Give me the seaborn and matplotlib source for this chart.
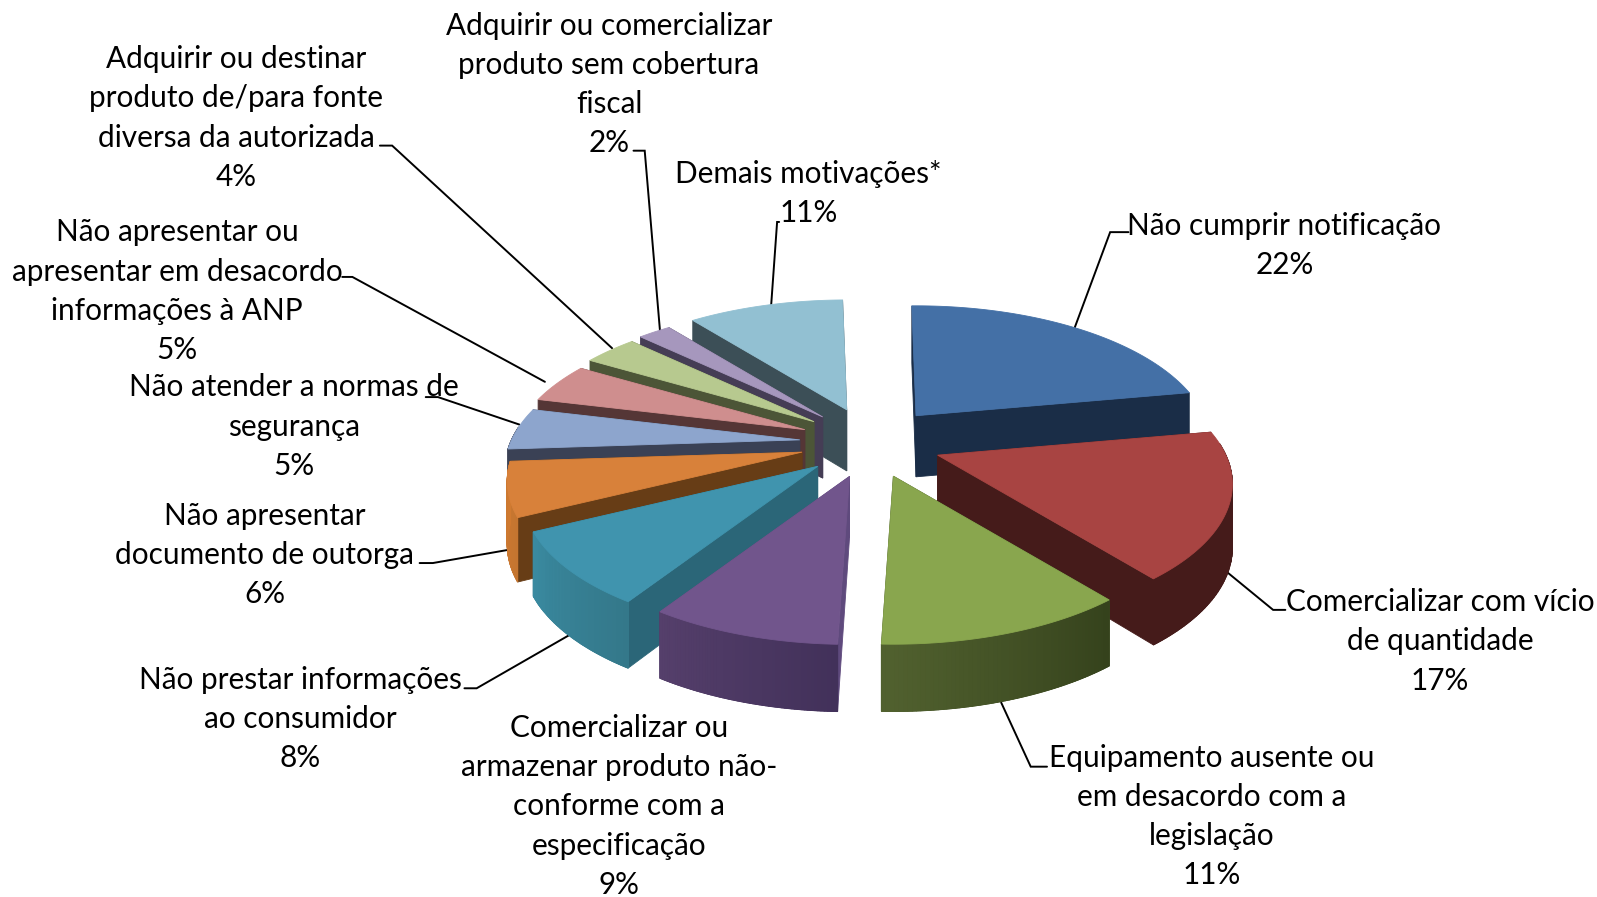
import matplotlib
matplotlib.use("Agg")
import matplotlib.pyplot as plt
import numpy as np
import seaborn as sns

labels = [
    "Não cumprir notificação\n22%",
    "Comercializar com vício\nde quantidade\n17%",
    "Equipamento ausente ou\nem desacordo com a\nlegislação\n11%",
    "Comercializar ou\narmazenar produto não-\nconforme com a\nespecificação\n9%",
    "Não prestar informações\nao consumidor\n8%",
    "Não apresentar\ndocumento de outorga\n6%",
    "Não atender a normas de\nsegurança\n5%",
    "Não apresentar ou\napresentar em desacordo\ninformações à ANP\n5%",
    "Adquirir ou destinar\nproduto de/para fonte\ndiversa da autorizada\n4%",
    "Adquirir ou comercializar\nproduto sem cobertura\nfiscal\n2%",
    "Demais motivações*\n11%",
]
values = [22.4, 17.1, 11.3, 8.6, 8.5, 6.3, 4.9, 4.7, 3.6, 2.2, 10.4]

top_colors = ["#4470a6", "#a84442", "#89a64e", "#71558c", "#4094ae", "#d8813a",
              "#8da5cd", "#cf8e8e", "#b7c98f", "#a697bd", "#92c0d2"]
face_colors = ["#1a2d47", "#451b1a", "#35421c", "#5f4a7d", "#2b6678", "#673d16",
               "#3a4155", "#553636", "#4c5537", "#453d55", "#3c4f57"]
rim_start = ["#1a2d47", "#451b1a", "#35421c", "#42315a", "#34788a", "#c47530",
             "#3a4155", "#553636", "#4c5537", "#453d55", "#3c4f57"]
rim_end = ["#1a2d47", "#451b1a", "#51612f", "#553f6b", "#3a8aa0", "#d07a30",
           "#3a4155", "#553636", "#4c5537", "#453d55", "#3c4f57"]

label_pos = [(1261, 241), (1414, 630), (1190, 802), (608, 792), (295, 706), (260, 545),
             (289, 419), (174, 286), (232, 116), (598, 83), (794, 190)]
leaders = [
    [(1108, 228), (1090, 228), (1054, 325)],
    [(1262, 599), (1250, 599), (1200, 558)],
    [(1028, 753), (1012, 753), (983, 690)],
    [(456, 676), (468, 676), (562, 622)],
    [(412, 553), (425, 553), (505, 539)],
    [(418, 390), (430, 390), (510, 417)],
    [(336, 272), (346, 272), (535, 375)],
    [(373, 143), (385, 143), (601, 342)],
    [(622, 148), (633, 148), (648, 325)],
    [(765, 218), (763, 218), (757, 302)],
]

# pie projection, in the same units as the 1568 wide view of the chart
cx, cy = 855, 435
ex, ey = 70, 34.5
rx, ry = 283, 130.5
persp = 0.209
start = -1.0


def rim_point(a):
    u, v = np.sin(a), -np.cos(a)
    s = 1 / (1 - persp * v)
    return rx * u * s, ry * v * s, 61 + 5 * v


sns.set_style("white")
plt.rcParams["font.family"] = ["Lato", "DejaVu Sans"]

fig = plt.figure(figsize=(15.97, 8.97), dpi=100)
ax = fig.add_axes([0, 0, 1, 1])
ax.set_xlim(0, 1568)
ax.set_ylim(881, 0)
ax.axis("off")

for pts in leaders:
    xs, ys = zip(*pts)
    ax.plot(xs, ys, color="black", lw=1.4, zorder=1, solid_joinstyle="miter")

edges = start + np.concatenate([[0], np.cumsum(values)]) / sum(values) * 360
mids = np.radians((edges[:-1] + edges[1:]) / 2)
order = np.argsort(-np.cos(mids))

z = 2
for i in order:
    ax0 = cx + ex * np.sin(mids[i])
    ay0 = cy - ey * np.cos(mids[i])
    angles = np.radians(np.linspace(edges[i], edges[i + 1], 60))
    rx_, ry_, d_ = rim_point(angles)
    px, py = ax0 + rx_, ay0 + ry_
    apex_d = 60

    # the two cut faces go first, a hidden one ends up under the rim and top
    for k in (0, -1):
        ax.fill([ax0, px[k], px[k], ax0],
                [ay0, py[k], py[k] + d_[k], ay0 + apex_d],
                color=face_colors[i], lw=0.6, zorder=z)
        z += 1

    # outer side, only the part facing the viewer
    front = np.where(-np.cos(angles) > -0.1)[0]
    if len(front) > 1:
        fx, fy, fd = px[front], py[front], d_[front]
        shades = sns.blend_palette([rim_start[i], rim_end[i]], len(front) - 1)
        ax.fill(np.r_[fx, fx[::-1]], np.r_[fy, (fy + fd)[::-1]],
                color=shades[len(shades) // 2], lw=0.6, zorder=z)
        z += 1
        for j in range(len(front) - 1):
            ax.fill([fx[j], fx[j + 1], fx[j + 1], fx[j]],
                    [fy[j], fy[j + 1], fy[j + 1] + fd[j + 1], fy[j] + fd[j]],
                    color=shades[j], lw=0.8, zorder=z)
        z += 1

    ax.fill(np.r_[ax0, px], np.r_[ay0, py], color=top_colors[i], lw=0.6, zorder=z)
    z += 1

for txt, (tx, ty) in zip(labels, label_pos):
    ax.text(tx, ty, txt, ha="center", va="center", fontsize=21.4, linespacing=1.49,
            color="black", zorder=z)

fig.savefig("out.png", dpi=100, facecolor="white")
